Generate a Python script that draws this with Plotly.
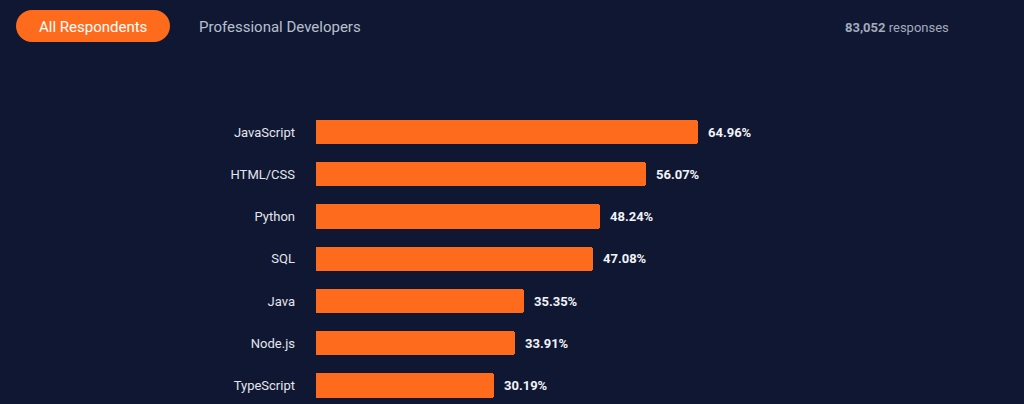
import plotly.graph_objects as go

languages = ["JavaScript", "HTML/CSS", "Python", "SQL", "Java", "Node.js", "TypeScript"]
shares = [64.96, 56.07, 48.24, 47.08, 35.35, 33.91, 30.19]
tabs = ["All Respondents", "Professional Developers"]
responses = "83,052"

W, H = 1024, 404
ML, MR, MT, MB = 316, 0, 110, 0
PW, PH = W - ML - MR, H - MT - MB
BG = "#0f1733"
ORANGE = "#ff6b1d"
FONT = "Roboto, Lato, sans-serif"


def px_x(p):
    return (p - ML) / PW


def px_y(p):
    return (H - MB - p) / PH


idx = list(range(len(languages)))

fig = go.Figure()
fig.add_trace(go.Bar(
    x=shares, y=idx, orientation="h",
    marker=dict(color=ORANGE, line=dict(width=0), cornerradius=3),
    width=0.57, hoverinfo="skip",
))

for i, v in zip(idx, shares):
    fig.add_annotation(
        x=v, y=i, xref="x", yref="y", text=f"<b>{v:.2f}%</b>",
        showarrow=False, xanchor="left", xshift=8,
        font=dict(family=FONT, size=13, color="#f2f4f8"),
    )

# pill button
x0, x1, y0, y1 = 16, 170, 10, 42
r = (y1 - y0) / 2
k = 0.5523 * r


def P(x, y):
    return f"{px_x(x):.6f},{px_y(y):.6f}"


path = (
    f"M{P(x0 + r, y0)} L{P(x1 - r, y0)} "
    f"C{P(x1 - r + k, y0)} {P(x1, y0 + r - k)} {P(x1, y0 + r)} "
    f"C{P(x1, y0 + r + k)} {P(x1 - r + k, y1)} {P(x1 - r, y1)} "
    f"L{P(x0 + r, y1)} "
    f"C{P(x0 + r - k, y1)} {P(x0, y0 + r + k)} {P(x0, y0 + r)} "
    f"C{P(x0, y0 + r - k)} {P(x0 + r - k, y0)} {P(x0 + r, y0)} Z"
)
fig.add_shape(type="path", path=path, xref="paper", yref="paper",
              fillcolor=ORANGE, line=dict(width=0), layer="above")

fig.add_annotation(x=px_x((x0 + x1) / 2), y=px_y(27), xref="paper", yref="paper",
                   text=tabs[0], showarrow=False, xanchor="center", yanchor="middle",
                   font=dict(family=FONT, size=15, color="#ffffff"))
fig.add_annotation(x=px_x(197), y=px_y(27), xref="paper", yref="paper",
                   text=tabs[1], showarrow=False, xanchor="left", yanchor="middle",
                   font=dict(family=FONT, size=15, color="#b9c0cd"))
fig.add_annotation(x=px_x(951), y=px_y(27), xref="paper", yref="paper",
                   text=f"<b>{responses}</b> responses", showarrow=False,
                   xanchor="right", yanchor="middle",
                   font=dict(family=FONT, size=13, color="#a3aabb"))

row0, step = 132, 42.25
top_val = (MT - row0) / step
bot_val = (H - MB - row0) / step

fig.update_layout(
    width=W, height=H,
    margin=dict(l=ML, r=MR, t=MT, b=MB, autoexpand=False),
    paper_bgcolor=BG, plot_bgcolor=BG,
    showlegend=False, bargap=0,
    xaxis=dict(range=[0, PW / 5.88], visible=False, fixedrange=True),
    yaxis=dict(range=[bot_val, top_val], tickvals=idx, ticktext=languages,
               showgrid=False, zeroline=False, showline=False, ticks="",
               ticklabelstandoff=20,
               tickfont=dict(family=FONT, size=13, color="#e3e6ec"),
               fixedrange=True),
)

fig.write_html("out.html", config={"displayModeBar": False})
